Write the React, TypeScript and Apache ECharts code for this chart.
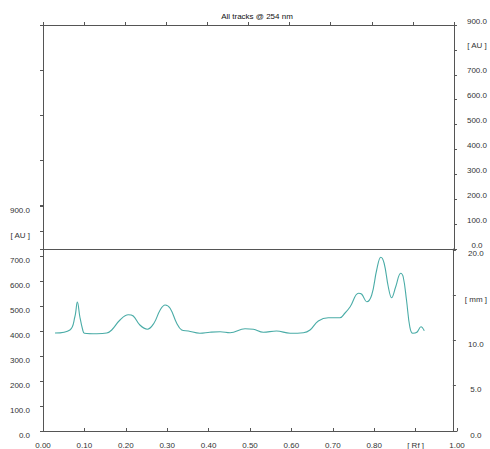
import React, { useEffect, useRef } from "react";
import * as echarts from "echarts";

const titleText = "All tracks @ 254 nm";

// Rf positions and densitometer signal [AU]
const rf = [
  0.029, 0.065, 0.077, 0.083, 0.089, 0.096, 0.1, 0.13, 0.154, 0.166, 0.186, 0.206, 0.218, 0.234,
  0.252, 0.268, 0.283, 0.295, 0.307, 0.323, 0.335, 0.351, 0.379, 0.403, 0.428, 0.452, 0.488,
  0.508, 0.532, 0.564, 0.597, 0.629, 0.645, 0.665, 0.689, 0.717, 0.729, 0.742, 0.762, 0.77,
  0.782, 0.794, 0.806, 0.816, 0.824, 0.834, 0.842, 0.852, 0.864, 0.87, 0.878, 0.886, 0.893,
  0.903, 0.913, 0.921,
];
const au = [
  392, 404, 457, 516, 457, 404, 391, 389, 392, 404, 444, 465, 460, 424,
  407, 431, 484, 504, 491, 431, 404, 400, 391, 395, 397, 393, 409,
  407, 395, 400, 391, 393, 404, 440, 453, 453, 471, 497, 551, 547,
  517, 544, 644, 695, 671, 577, 533, 577, 631, 617, 524, 417, 391,
  395, 417, 401,
];

const AU_LABEL_AT = 800;
const MM_LABEL_AT = 15;
const RF_LABEL_AT = 0.9;

const FONT = "Liberation Sans, Arial, sans-serif";
const AXIS_COLOR = "#555";
const TEXT_COLOR = "#333";

export default function App() {
  const ref = useRef<HTMLDivElement>(null);
  useEffect(() => {
    if (!ref.current) return;
    const chart = echarts.init(ref.current, null, { renderer: "svg" });
    const lbl = { fontSize: 8, color: TEXT_COLOR, fontFamily: FONT };
    const line = { show: true, onZero: false, lineStyle: { color: AXIS_COLOR, width: 1 } };
    const tick = { show: true, length: 3, lineStyle: { color: AXIS_COLOR } };
    chart.setOption({
      animation: false,
      backgroundColor: "#fff",
      title: {
        text: titleText,
        left: 252,
        top: 7,
        textAlign: "center",
        textStyle: { fontSize: 8, fontWeight: "normal", color: "#111", fontFamily: FONT },
      },
      grid: [
        { left: 43, right: 33, top: 206, bottom: 18 },
        { left: 43, right: 33, top: 25, height: 224 },
        { left: 43, right: 33, top: 249, bottom: 18 },
      ],
      xAxis: [
        {
          gridIndex: 0,
          type: "value",
          position: "bottom",
          min: 0,
          max: 1,
          interval: 0.1,
          axisLine: line,
          axisTick: { ...tick, inside: true },
          splitLine: { show: false },
          axisLabel: {
            ...lbl,
            margin: 10,
            showMinLabel: true,
            showMaxLabel: true,
            formatter: (v: number) =>
              Math.abs(v - RF_LABEL_AT) < 1e-6 ? "[ Rf ]" : v.toFixed(2),
          },
        },
        {
          gridIndex: 1,
          type: "value",
          position: "bottom",
          min: 0,
          max: 1,
          axisLine: line,
          axisTick: { show: false },
          axisLabel: { show: false },
          splitLine: { show: false },
        },
        {
          gridIndex: 1,
          type: "value",
          position: "top",
          min: 0,
          max: 1,
          interval: 0.1,
          axisLine: line,
          axisTick: tick,
          axisLabel: { show: false },
          splitLine: { show: false },
        },
        {
          gridIndex: 2,
          type: "value",
          position: "bottom",
          min: 0,
          max: 1,
          axisLine: { show: false, onZero: false },
          axisTick: { show: false },
          axisLabel: { show: false },
          splitLine: { show: false },
        },
      ],
      yAxis: [
        {
          gridIndex: 0,
          type: "value",
          position: "left",
          min: 0,
          max: 900,
          interval: 100,
          axisLine: line,
          axisTick: tick,
          splitLine: { show: false },
          axisLabel: {
            ...lbl,
            margin: 13,
            verticalAlign: "top",
            showMinLabel: true,
            showMaxLabel: true,
            formatter: (v: number) => (v === AU_LABEL_AT ? "[ AU ]" : v.toFixed(1)),
          },
        },
        {
          gridIndex: 1,
          type: "value",
          position: "right",
          min: 0,
          max: 900,
          interval: 100,
          axisLine: line,
          axisTick: tick,
          splitLine: { show: false },
          axisLabel: {
            ...lbl,
            margin: 23,
            align: "center",
            verticalAlign: "bottom",
            showMinLabel: true,
            showMaxLabel: true,
            formatter: (v: number) => (v === AU_LABEL_AT ? "[ AU ]" : v.toFixed(1)),
          },
        },
        {
          gridIndex: 1,
          type: "value",
          position: "left",
          inverse: true,
          min: 0,
          max: 4.978,
          interval: 1,
          axisLine: line,
          axisTick: tick,
          axisLabel: { show: false },
          splitLine: { show: false },
        },
        {
          gridIndex: 2,
          type: "value",
          position: "right",
          min: 0,
          max: 20.11,
          interval: 5,
          axisLine: line,
          axisTick: tick,
          splitLine: { show: false },
          axisLabel: {
            ...lbl,
            margin: 23,
            align: "center",
            verticalAlign: "top",
            showMinLabel: true,
            showMaxLabel: false,
            formatter: (v: number) => (v === MM_LABEL_AT ? "[ mm ]" : v.toFixed(1)),
          },
        },
      ],
      series: [
        {
          type: "line",
          xAxisIndex: 0,
          yAxisIndex: 0,
          data: rf.map((x, i) => [x, au[i]]),
          smooth: 0.4,
          showSymbol: false,
          lineStyle: { color: "#4aaca7", width: 1.1 },
        },
      ],
    });
    return () => chart.dispose();
  }, []);
  return (
    <div
      ref={ref}
      style={{ position: "fixed", left: 0, top: 0, width: 490, height: 449 }}
    />
  );
}
